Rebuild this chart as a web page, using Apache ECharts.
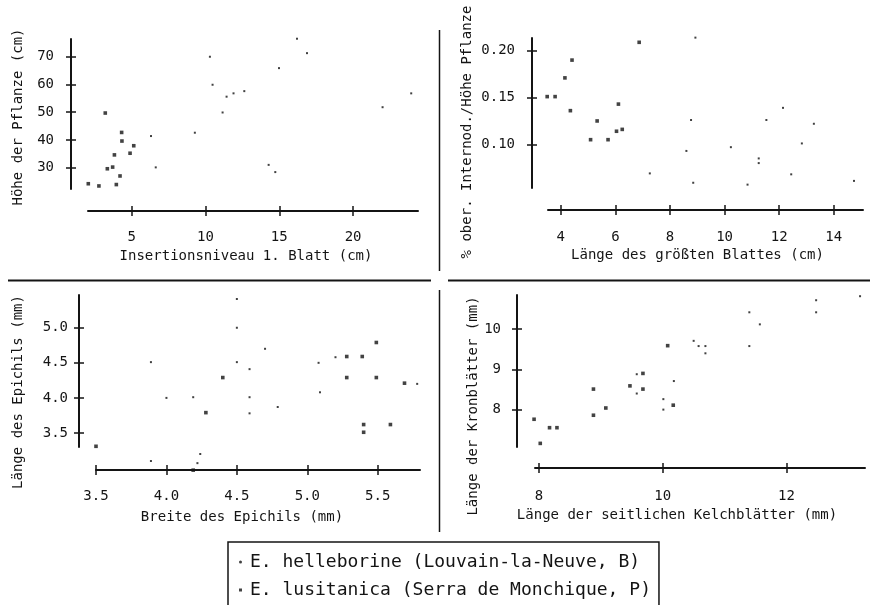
<!DOCTYPE html>
<html>
<head>
<meta charset="utf-8">
<script src="https://cdn.jsdelivr.net/npm/echarts@6.0.0/dist/echarts.min.js"></script>
<style>
  html, body { margin: 0; padding: 0; background: #fff; }
  #chart { width: 870px; height: 605px; }
</style>
</head>
<body>
<div id="chart"></div>
<script>
var nameHell = 'E. helleborine (Louvain-la-Neuve, B)';
var nameLusi = 'E. lusitanica (Serra de Monchique, P)';

// Panel 1: Insertionsniveau 1. Blatt (cm) vs Höhe der Pflanze (cm)
var hell1 = [[6.31,41.4],[6.63,30.1],[9.28,42.6],[10.3,70],[10.48,59.9],[11.16,49.9],[11.43,55.6],
  [11.9,56.8],[12.63,57.6],[14.28,31.0],[14.73,28.4],[14.98,65.9],[16.2,76.5],[16.88,71.3],
  [22.0,51.8],[23.94,56.8]];
var lusi1 = [[2.06,24.2],[2.78,23.4],[3.21,49.7],[3.35,29.6],[3.71,30.2],[3.83,34.6],[3.96,23.9],
  [4.21,27.0],[4.32,42.7],[4.34,39.6],[4.89,35.2],[5.14,37.9]];
var ticks1x = [5, 10, 15, 20];
var ticks1y = [30, 40, 50, 60, 70];

// Panel 2: Länge des größten Blattes (cm) vs % ober. Internod./Höhe Pflanze
var hell2 = [[7.26,0.069],[8.6,0.093],[8.77,0.126],[8.85,0.059],[8.93,0.214],[10.23,0.097],
  [10.84,0.057],[11.25,0.085],[11.25,0.080],[11.53,0.126],[12.14,0.139],[12.44,0.068],
  [12.83,0.101],[13.27,0.122],[14.74,0.061]];
var lusi2 = [[3.50,0.151],[3.79,0.151],[4.15,0.171],[4.35,0.136],[4.41,0.190],[5.09,0.105],
  [5.33,0.125],[5.73,0.105],[6.04,0.114],[6.11,0.143],[6.25,0.116],[6.87,0.209]];
var ticks2x = [4, 6, 8, 10, 12, 14];
var ticks2y = [0.10, 0.15, 0.20];

// Panel 3: Breite des Epichils (mm) vs Länge des Epichils (mm)
var hell3 = [[3.89,4.51],[3.89,3.10],[4.00,4.00],[4.19,4.01],[4.22,3.07],[4.24,3.20],[4.50,5.41],
  [4.50,5.00],[4.50,4.51],[4.59,4.41],[4.59,4.01],[4.59,3.78],[4.70,4.70],[4.79,3.87],
  [5.08,4.50],[5.09,4.08],[5.20,4.58],[5.78,4.20]];
var lusi3 = [[3.50,3.31],[4.19,2.97],[4.28,3.79],[4.40,4.29],[5.28,4.59],[5.28,4.29],[5.39,4.59],
  [5.40,3.62],[5.40,3.51],[5.49,4.79],[5.49,4.29],[5.59,3.62],[5.69,4.21]];
var ticks3x = [3.5, 4.0, 4.5, 5.0, 5.5];
var ticks3y = [3.5, 4.0, 4.5, 5.0];

// Panel 4: Länge der seitlichen Kelchblätter (mm) vs Länge der Kronblätter (mm)
var hell4 = [[9.58,8.88],[9.58,8.40],[10.01,8.26],[10.01,8.00],[10.18,8.71],[10.5,9.71],
  [10.58,9.58],[10.69,9.58],[10.69,9.40],[11.40,10.42],[11.40,9.58],[11.57,10.12],
  [12.48,10.72],[12.48,10.42],[13.19,10.82]];
var lusi4 = [[7.92,7.76],[8.02,7.16],[8.17,7.55],[8.29,7.55],[8.88,8.51],[8.88,7.86],[9.08,8.04],
  [9.47,8.59],[9.68,8.90],[9.68,8.51],[10.08,9.59],[10.17,8.11]];
var ticks4x = [8, 10, 12];
var ticks4y = [8, 9, 10];

var ink = '#141414';
var font = 'DejaVu Sans Mono';

var panels = [
  { grid: {left: 88, top: 39, width: 330, height: 150}, xr: [2.04, 24.4], yr: [22.3, 76.4],
    xo: 22, yo: 17, xt: ticks1x, yt: ticks1y, xd: 0, yd: 0, xm: 19, ym: 17,
    xn: 'Insertionsniveau 1. Blatt (cm)', yn: 'Höhe der Pflanze (cm)',
    xg: 38, yg: 46, xp: [0, 14, 0, 0], yp: [0, 6, 0, 0], hell: hell1, lusi: lusi1 },
  { grid: {left: 548, top: 38, width: 315, height: 150}, xr: [3.53, 15.07], yr: [0.0534, 0.2136],
    xo: 22, yo: 16, xt: ticks2x, yt: ticks2y, xd: 0, yd: 2, xm: 20, ym: 17,
    xn: 'Länge des größten Blattes (cm)', yn: '% ober. Internod./Höhe Pflanze',
    xg: 38, yg: 58, xp: [0, 16, 0, 0], yp: [0, 38, 0, 0], hell: hell2, lusi: lusi2 },
  { grid: {left: 96, top: 295, width: 324, height: 152}, xr: [3.5, 5.80], yr: [3.3, 5.467],
    xo: 23, yo: 17, xt: ticks3x, yt: ticks3y, xd: 1, yd: 1, xm: 19, ym: 11,
    xn: 'Breite des Epichils (mm)', yn: 'Länge des Epichils (mm)',
    xg: 40, yg: 54, xp: [0, 32, 0, 0], yp: [0, 42, 0, 0], hell: hell3, lusi: lusi3 },
  { grid: {left: 535, top: 295, width: 330, height: 152}, xr: [7.935, 13.27], yr: [7.07, 10.85],
    xo: 21, yo: 18, xt: ticks4x, yt: ticks4y, xd: 0, yd: 0, xm: 21, ym: 16,
    xn: 'Länge der seitlichen Kelchblätter (mm)', yn: 'Länge der Kronblätter (mm)',
    xg: 40, yg: 37, xp: [0, 46, 0, 0], yp: [0, 70, 0, 0], hell: hell4, lusi: lusi4 }
];

var grids = [], xAxes = [], yAxes = [], series = [];

// one axis draws line, labels and outer half of each tick; a twin draws the inner half
function makeAxis(i, p, dim, inner) {
  var isX = dim === 'x';
  var ticks = isX ? p.xt : p.yt;
  var dec = isX ? p.xd : p.yd;
  var ax = {
    gridIndex: i,
    type: 'value',
    position: isX ? 'bottom' : 'left',
    offset: isX ? p.xo : p.yo,
    min: isX ? p.xr[0] : p.yr[0],
    max: isX ? p.xr[1] : p.yr[1],
    splitLine: { show: false },
    axisLine: { show: !inner, onZero: false, lineStyle: { color: ink, width: 2 } },
    axisTick: { show: true, inside: inner, length: 5, customValues: ticks,
      lineStyle: { color: ink, width: 1.5 } },
    axisLabel: { show: !inner, customValues: ticks, margin: isX ? p.xm : p.ym,
      color: ink, fontFamily: font, fontSize: 14,
      formatter: function (v) { return v.toFixed(dec); } }
  };
  if (!inner) {
    ax.name = isX ? p.xn : p.yn;
    ax.nameLocation = 'middle';
    ax.nameGap = isX ? p.xg : p.yg;
    ax.nameTextStyle = { color: ink, fontFamily: font, fontSize: 14, padding: isX ? p.xp : p.yp };
  }
  return ax;
}

panels.forEach(function (p, i) {
  grids.push(p.grid);
  xAxes.push(makeAxis(i, p, 'x', false), makeAxis(i, p, 'x', true));
  yAxes.push(makeAxis(i, p, 'y', false), makeAxis(i, p, 'y', true));
  series.push({
    type: 'scatter', name: nameHell, xAxisIndex: 2 * i, yAxisIndex: 2 * i,
    data: p.hell, symbol: 'rect', symbolSize: 2, clip: false, silent: true,
    itemStyle: { color: '#111' }
  });
  series.push({
    type: 'scatter', name: nameLusi, xAxisIndex: 2 * i, yAxisIndex: 2 * i,
    data: p.lusi, symbol: 'rect', symbolSize: 3.6, clip: false, silent: true,
    itemStyle: { color: ink }
  });
});

var chart = echarts.init(document.getElementById('chart'));
chart.setOption({
  animation: false,
  backgroundColor: '#fff',
  grid: grids,
  xAxis: xAxes,
  yAxis: yAxes,
  series: series,
  legend: {
    left: 228, top: 542, orient: 'vertical', height: 100,
    data: [{ name: nameHell, icon: 'circle' }, { name: nameLusi, icon: 'rect' }],
    itemWidth: 3, itemHeight: 3, itemGap: 8,
    padding: [10, 8, 20, 11],
    borderColor: ink, borderWidth: 1.5,
    selectedMode: false,
    textStyle: { color: ink, fontFamily: font, fontSize: 18, lineHeight: 20, padding: [0, 0, 0, 3] }
  },
  graphic: [
    { type: 'line', shape: { x1: 8, y1: 280.5, x2: 431, y2: 280.5 }, style: { stroke: ink, lineWidth: 2 } },
    { type: 'line', shape: { x1: 448, y1: 280.5, x2: 870, y2: 280.5 }, style: { stroke: ink, lineWidth: 2 } },
    { type: 'line', shape: { x1: 439.5, y1: 30, x2: 439.5, y2: 271 }, style: { stroke: ink, lineWidth: 1.5 } },
    { type: 'line', shape: { x1: 439.5, y1: 290, x2: 439.5, y2: 532 }, style: { stroke: ink, lineWidth: 1.5 } }
  ]
});
</script>
</body>
</html>
